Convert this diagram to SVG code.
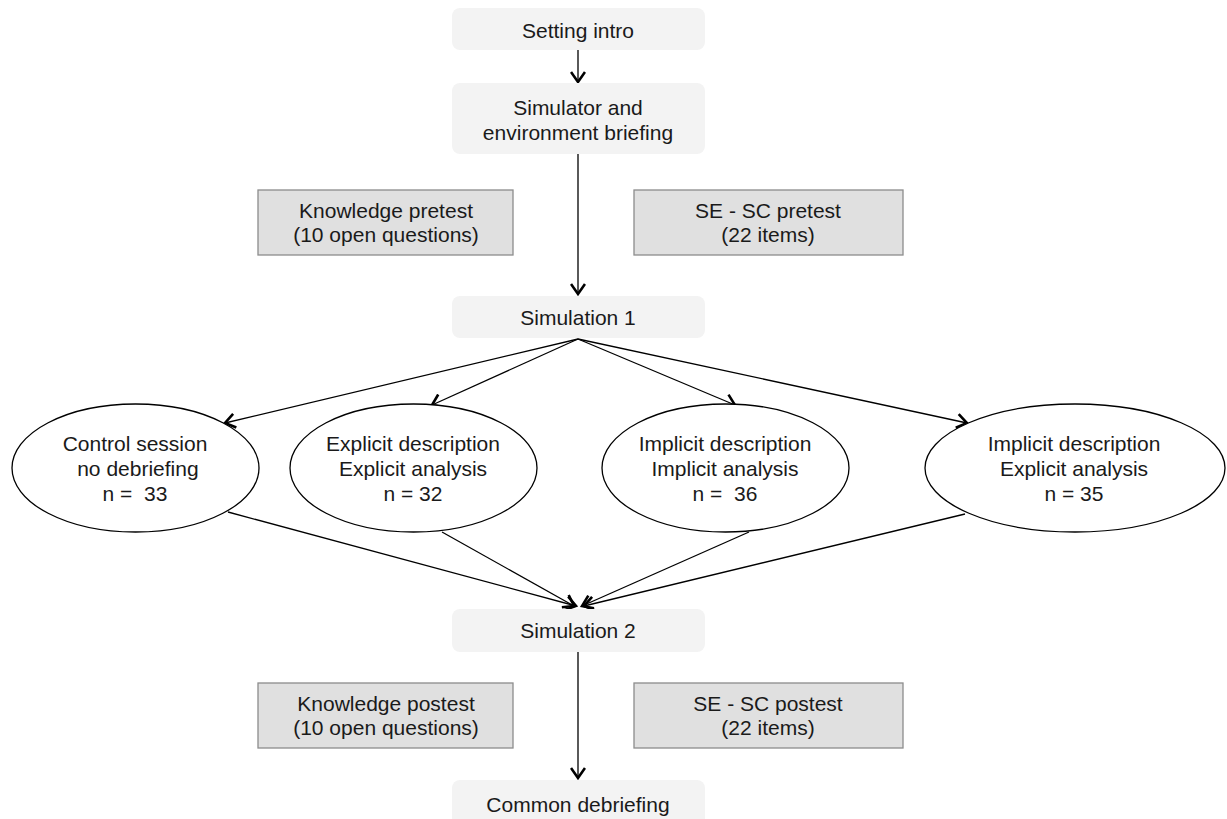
<svg xmlns="http://www.w3.org/2000/svg" width="1227" height="819" viewBox="0 0 1227 819">
<style>
text{font-family:"Liberation Sans",Arial,sans-serif;font-size:21px;fill:#1a1a1a;text-anchor:middle;white-space:pre}
.step{fill:#f3f3f3;stroke:none}
.test{fill:#e0e0e0;stroke:#8c8c8c;stroke-width:1.3}
.grp{fill:#fff;stroke:#000;stroke-width:1.3}
.con{fill:none;stroke:#000;stroke-width:1.3;marker-end:url(#ah)}
</style>
<defs>
<marker id="ah" markerUnits="userSpaceOnUse" markerWidth="14" markerHeight="16" viewBox="0 0 14 16" refX="12" refY="8" orient="auto">
<path d="M2,1 L12,8 L2,15" fill="none" stroke="#000" stroke-width="2.6"/>
</marker>
</defs>
<rect width="1227" height="819" fill="#fff"/>
<g id="connectors">
<line class="con" x1="578" y1="50" x2="578" y2="82"/>
<line class="con" x1="578" y1="154" x2="578" y2="294"/>
<line class="con" x1="578" y1="339" x2="225" y2="423"/>
<line class="con" x1="578" y1="339" x2="432" y2="405"/>
<line class="con" x1="578" y1="339" x2="735" y2="405"/>
<line class="con" x1="578" y1="339" x2="967" y2="423"/>
<line class="con" x1="228" y1="512" x2="576" y2="606"/>
<line class="con" x1="442" y1="532" x2="574" y2="606"/>
<line class="con" x1="749" y1="532" x2="582" y2="606"/>
<line class="con" x1="965" y1="514" x2="584" y2="606"/>
<line class="con" x1="578" y1="652" x2="578" y2="778"/>
</g>
<g id="setting-intro"><rect class="step" x="452" y="8" width="253" height="42" rx="8"/><text x="578" y="38">Setting intro</text></g>
<g id="simulator-briefing"><rect class="step" x="452" y="83" width="253" height="71" rx="8"/><text x="578" y="115">Simulator and</text><text x="578" y="140">environment briefing</text></g>
<g id="knowledge-pretest"><rect class="test" x="258" y="190" width="255" height="65"/><text x="386" y="218">Knowledge pretest</text><text x="386" y="242">(10 open questions)</text></g>
<g id="sesc-pretest"><rect class="test" x="634" y="190" width="269" height="65"/><text x="768" y="218">SE - SC pretest</text><text x="768" y="242">(22 items)</text></g>
<g id="simulation-1"><rect class="step" x="452" y="296" width="253" height="42" rx="8"/><text x="578" y="325">Simulation 1</text></g>
<g id="control"><ellipse class="grp" cx="135.5" cy="468" rx="123.5" ry="64"/><text x="135" y="451">Control session</text><text x="135" y="476"> no debriefing</text><text x="135" y="501">n =  33</text></g>
<g id="explicit-explicit"><ellipse class="grp" cx="413.5" cy="468" rx="123.5" ry="64"/><text x="413" y="451">Explicit description</text><text x="413" y="476">Explicit analysis</text><text x="413" y="501">n = 32</text></g>
<g id="implicit-implicit"><ellipse class="grp" cx="725.5" cy="468" rx="123.5" ry="64"/><text x="725" y="451">Implicit description</text><text x="725" y="476">Implicit analysis</text><text x="725" y="501">n =  36</text></g>
<g id="implicit-explicit"><ellipse class="grp" cx="1075" cy="468" rx="150" ry="64"/><text x="1074" y="451">Implicit description</text><text x="1074" y="476">Explicit analysis</text><text x="1074" y="501">n = 35</text></g>
<g id="simulation-2"><rect class="step" x="452" y="609" width="253" height="43" rx="8"/><text x="578" y="638">Simulation 2</text></g>
<g id="knowledge-postest"><rect class="test" x="258" y="683" width="255" height="65"/><text x="386" y="711">Knowledge postest</text><text x="386" y="735">(10 open questions)</text></g>
<g id="sesc-postest"><rect class="test" x="634" y="683" width="269" height="65"/><text x="768" y="711">SE - SC postest</text><text x="768" y="735">(22 items)</text></g>
<g id="common-debriefing"><rect class="step" x="452" y="780" width="253" height="50" rx="8"/><text x="578" y="812">Common debriefing</text></g>
</svg>
